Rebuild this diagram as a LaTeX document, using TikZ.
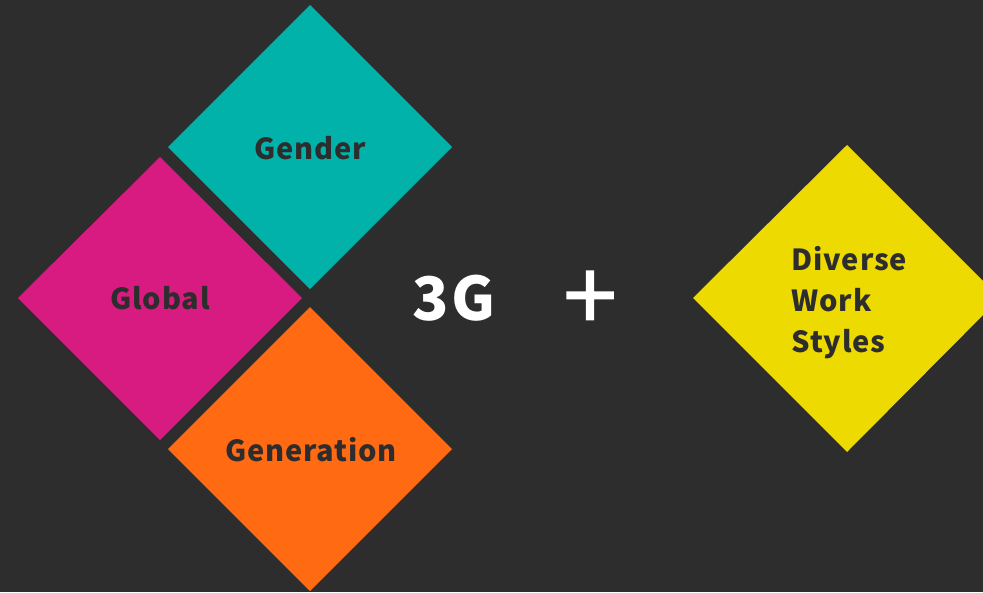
\documentclass[tikz,border=0pt]{standalone}
\usepackage{fontspec}
\setmainfont{Noto Sans CJK JP}[LetterSpace=3]
\newfontfamily\plusfont{Noto Sans CJK JP}[FakeBold=1.5]
\definecolor{bg}{HTML}{2D2D2D}
\definecolor{cteal}{HTML}{00B2AA}
\definecolor{cmag}{HTML}{D81B80}
\definecolor{corange}{HTML}{FF6A13}
\definecolor{cyellow}{HTML}{EDDA00}
\definecolor{ink}{HTML}{2D2D2D}
\tikzset{
  lbl/.style={text=ink, font=\fontsize{29}{41}\selectfont\bfseries},
  big/.style={text=white, font=\fontsize{60}{60}\selectfont\bfseries},
  plussign/.style={text=white, font=\plusfont\fontsize{96}{96}\selectfont},
}
\begin{document}
\begin{tikzpicture}[x=1pt,y=-1pt]
\fill[bg] (0,0) rectangle (983,592);
\useasboundingbox (0,0) rectangle (983,592);
\begin{scope}
\clip (0,0) rectangle (983,592);
\fill[cteal] (310,5) -- (452,147) -- (310,289) -- (168,147) -- cycle;
\fill[cmag] (160,157) -- (302,298) -- (160,440) -- (18,298) -- cycle;
\fill[corange] (310,307) -- (452,449) -- (310,591) -- (168,449) -- cycle;
\fill[cyellow] (847,145) -- (1000,298) -- (847,452) -- (693,298) -- cycle;
\end{scope}
\node[lbl] (gender) at (310,148) {Gender};
\node[lbl] (global) at (160,298) {Global};
\node[lbl] (generation) at (311,450) {Generation};
\node[big] (threeg) at (454,298) {3G};
\node[plussign] (plus) at (590,301) {+};
\node[lbl, align=left, anchor=west] (dws) at (788,303) {Diverse\\Work\\Styles};
\end{tikzpicture}
\end{document}
